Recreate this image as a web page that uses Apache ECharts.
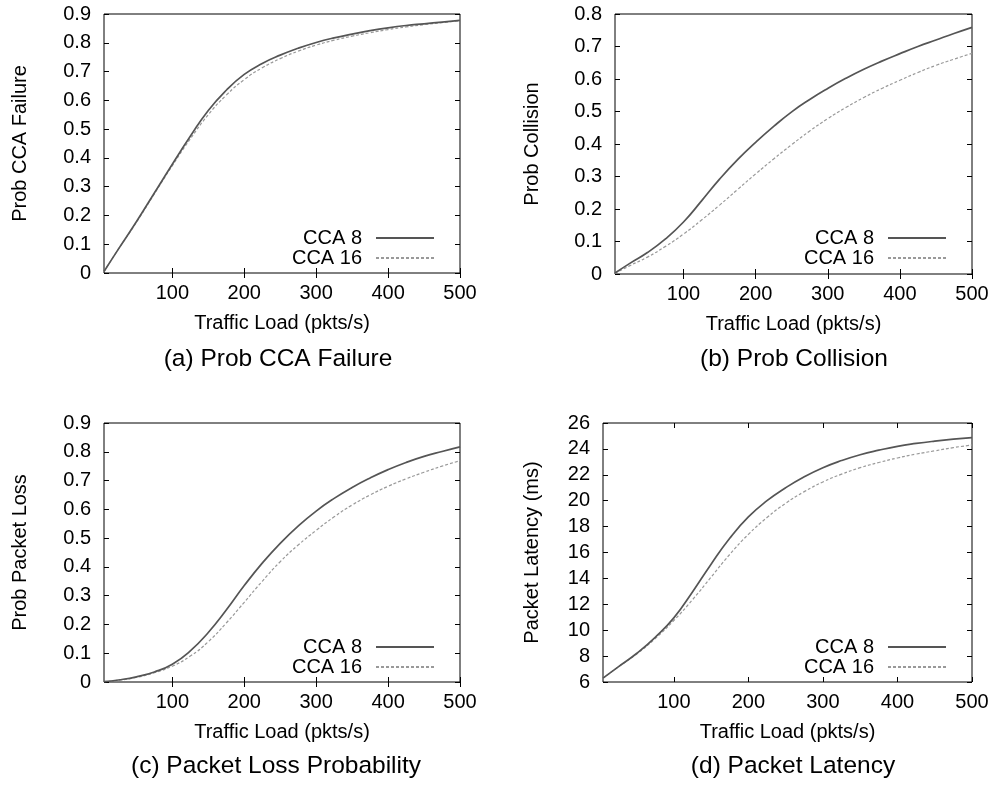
<!DOCTYPE html>
<html>
<head>
<meta charset="utf-8">
<script src="https://cdn.jsdelivr.net/npm/echarts@6/dist/echarts.min.js"></script>
<style>
  html, body { margin: 0; padding: 0; background: #fff; }
  #main { width: 994px; height: 785px; }
</style>
</head>
<body>
<div id="main"></div>
<script>
// traffic load (pkts/s) sample points shared by all panels
var load = [5, 25, 50, 75, 100, 125, 150, 175, 200, 225, 250, 275, 300, 325, 350, 375, 400, 425, 450, 475, 500];
var xTicks = [100, 200, 300, 400, 500];

// (a) Prob CCA Failure
var ccaFail8 = [0.005, 0.083, 0.178, 0.278, 0.378, 0.475, 0.565, 0.635, 0.69, 0.728, 0.757, 0.781, 0.801, 0.817, 0.83, 0.842, 0.852, 0.86, 0.866, 0.872, 0.878];
var ccaFail16 = [0.005, 0.083, 0.176, 0.275, 0.373, 0.466, 0.55, 0.618, 0.672, 0.713, 0.745, 0.771, 0.792, 0.809, 0.823, 0.835, 0.846, 0.855, 0.863, 0.87, 0.877];
// (b) Prob Collision
var coll8 = [0.003, 0.032, 0.066, 0.108, 0.16, 0.225, 0.292, 0.352, 0.405, 0.454, 0.499, 0.537, 0.571, 0.602, 0.63, 0.655, 0.678, 0.7, 0.72, 0.74, 0.759];
var coll16 = [0.002, 0.025, 0.052, 0.085, 0.123, 0.166, 0.212, 0.26, 0.308, 0.354, 0.398, 0.44, 0.478, 0.512, 0.543, 0.571, 0.596, 0.62, 0.642, 0.661, 0.679];
// (c) Packet Loss Probability
var loss8 = [0.001, 0.007, 0.018, 0.035, 0.062, 0.108, 0.172, 0.25, 0.335, 0.413, 0.482, 0.542, 0.594, 0.638, 0.676, 0.709, 0.738, 0.763, 0.784, 0.801, 0.817];
var loss16 = [0.001, 0.006, 0.016, 0.032, 0.055, 0.09, 0.14, 0.205, 0.277, 0.35, 0.418, 0.476, 0.527, 0.574, 0.615, 0.65, 0.68, 0.706, 0.729, 0.75, 0.769];
// (d) Packet Latency (ms)
var lat8 = [6.3, 7.15, 8.2, 9.45, 10.95, 12.95, 15.1, 17.1, 18.75, 20.0, 21.0, 21.85, 22.55, 23.1, 23.55, 23.9, 24.2, 24.42, 24.6, 24.75, 24.87];
var lat16 = [6.3, 7.15, 8.15, 9.35, 10.75, 12.35, 14.1, 15.85, 17.4, 18.7, 19.8, 20.7, 21.45, 22.05, 22.55, 22.95, 23.3, 23.6, 23.85, 24.1, 24.3];

var font = "'Liberation Sans', Arial, Helvetica, sans-serif";

var panels = [
  { grid: { left: 104, top: 14, width: 356, height: 259 }, ymin: 0, ymax: 0.9, step: 0.1, yname: 'Prob CCA Failure', ygap: 74,
    caption: '(a) Prob CCA Failure', cx: 278, cy: 347, lines: [ccaFail8, ccaFail16], legRight: 559, legTop: 228 },
  { grid: { left: 615, top: 14, width: 357, height: 260 }, ymin: 0, ymax: 0.8, step: 0.1, yname: 'Prob Collision', ygap: 73,
    caption: '(b) Prob Collision', cx: 794, cy: 347, lines: [coll8, coll16], legRight: 47, legTop: 228 },
  { grid: { left: 104, top: 423, width: 356, height: 259 }, ymin: 0, ymax: 0.9, step: 0.1, yname: 'Prob Packet Loss', ygap: 74,
    caption: '(c) Packet Loss Probability', cx: 276, cy: 754, lines: [loss8, loss16], legRight: 559, legTop: 637 },
  { grid: { left: 603, top: 423, width: 369, height: 259 }, ymin: 6, ymax: 26, step: 2, yname: 'Packet Latency (ms)', ygap: 61,
    caption: '(d) Packet Latency', cx: 793, cy: 754, lines: [lat8, lat16], legRight: 47, legTop: 637 }
];

function pairs(ys) {
  return load.map(function (x, i) { return [x, ys[i]]; });
}

var grids = [], xAxes = [], yAxes = [], series = [], titles = [], legends = [];
var tickStyle = { inside: true, length: 5, lineStyle: { color: '#000', width: 1 } };
var labelStyle = { color: '#000', fontSize: 20, fontFamily: font };
var nameStyle = { color: '#000', fontSize: 20, fontFamily: font };

panels.forEach(function (p, i) {
  grids.push(Object.assign({ show: true, borderColor: '#000', borderWidth: 1, backgroundColor: 'transparent' }, p.grid));

  // bottom axis + mirrored top ticks
  xAxes.push({
    gridIndex: i, type: 'value', min: 5, max: 500, position: 'bottom',
    axisLine: { show: false },
    axisTick: Object.assign({ customValues: xTicks }, tickStyle),
    axisLabel: Object.assign({ customValues: xTicks, margin: 10 }, labelStyle),
    splitLine: { show: false },
    name: 'Traffic Load (pkts/s)', nameLocation: 'middle', nameGap: 40,
    nameTextStyle: nameStyle
  });
  xAxes.push({
    gridIndex: i, type: 'value', min: 5, max: 500, position: 'top',
    axisLine: { show: false },
    axisTick: Object.assign({ customValues: xTicks }, tickStyle),
    axisLabel: { show: false, customValues: xTicks },
    splitLine: { show: false }
  });

  // left axis + mirrored right ticks
  yAxes.push({
    gridIndex: i, type: 'value', min: p.ymin, max: p.ymax, interval: p.step, position: 'left',
    axisLine: { show: false },
    axisTick: tickStyle,
    axisLabel: Object.assign({ margin: 13 }, labelStyle),
    splitLine: { show: false },
    name: p.yname, nameLocation: 'middle', nameGap: p.ygap,
    nameTextStyle: nameStyle
  });
  yAxes.push({
    gridIndex: i, type: 'value', min: p.ymin, max: p.ymax, interval: p.step, position: 'right',
    axisLine: { show: false },
    axisTick: tickStyle,
    axisLabel: { show: false },
    splitLine: { show: false }
  });

  series.push({
    name: 'CCA 8', type: 'line', xAxisIndex: i * 2, yAxisIndex: i * 2,
    data: pairs(p.lines[0]), smooth: 0.5, symbol: 'none',
    lineStyle: { color: '#555', width: 1.7 }, itemStyle: { color: '#555' }, z: 3
  });
  series.push({
    name: 'CCA 16', type: 'line', xAxisIndex: i * 2, yAxisIndex: i * 2,
    data: pairs(p.lines[1]), smooth: 0.5, symbol: 'none',
    lineStyle: { color: '#999', width: 1.2, type: [3, 2] }, itemStyle: { color: '#999' }, z: 2
  });

  titles.push({
    text: p.caption, left: p.cx, top: p.cy, textAlign: 'center', padding: 0,
    textStyle: { color: '#000', fontSize: 24.5, fontWeight: 'normal', fontFamily: font }
  });

  legends.push({
    data: ['CCA 8', 'CCA 16'], orient: 'vertical', align: 'right',
    right: p.legRight, top: p.legTop, padding: 0, itemGap: 0,
    itemWidth: 58, itemHeight: 20, selectedMode: false,
    itemStyle: { opacity: 0 },
    textStyle: { color: '#000', fontSize: 20, fontFamily: font, lineHeight: 20, padding: [0, 9, 0, 0] }
  });
});

var myChart = echarts.init(document.getElementById('main'));
myChart.setOption({
  animation: false,
  title: titles,
  legend: legends,
  grid: grids,
  xAxis: xAxes,
  yAxis: yAxes,
  series: series
});
</script>
</body>
</html>
